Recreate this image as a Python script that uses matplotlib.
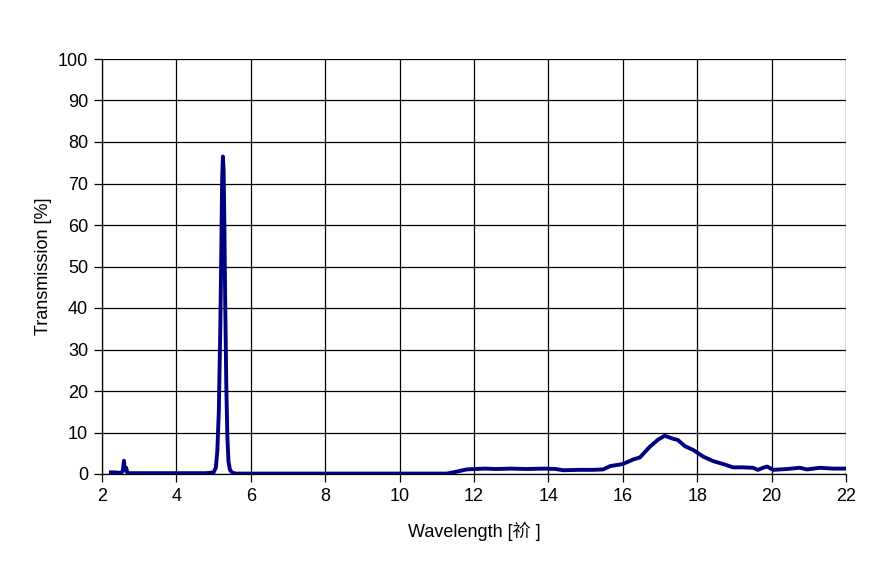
import matplotlib
matplotlib.use("Agg")
import matplotlib.pyplot as plt

wavelength = [2.24, 2.35, 2.45, 2.52, 2.56, 2.59, 2.61, 2.63, 2.65, 2.68, 2.75, 3.0, 3.5, 4.0, 4.5, 4.8,
              5.0, 5.06, 5.10, 5.14, 5.18, 5.21, 5.23, 5.25, 5.27, 5.29, 5.31, 5.34, 5.37, 5.40, 5.44,
              5.5, 5.6, 6.0, 7.0, 8.0, 9.0, 10.0, 11.0, 11.27, 11.5, 11.8, 12.0, 12.3, 12.6, 13.0,
              13.4, 13.9, 14.2, 14.4, 14.8, 15.2, 15.47, 15.66, 16.0, 16.28, 16.46, 16.73, 16.95,
              17.13, 17.35, 17.48, 17.67, 17.89, 18.16, 18.43, 18.7, 18.96, 19.23, 19.5, 19.63,
              19.8, 19.88, 20.04, 20.41, 20.76, 20.95, 21.3, 21.65, 22.0]
transmission = [0.4, 0.4, 0.3, 0.3, 0.8, 3.2, 1.2, 0.8, 1.5, 0.4, 0.2, 0.2, 0.2, 0.2, 0.2, 0.2,
                0.4, 1.5, 5.5, 15.0, 35.0, 56.0, 71.0, 76.5, 73.0, 60.0, 43.0, 22.0, 9.0, 3.0, 1.0,
                0.3, 0.1, 0.1, 0.1, 0.1, 0.1, 0.1, 0.1, 0.1, 0.5, 1.1, 1.2, 1.3, 1.2, 1.3,
                1.2, 1.3, 1.2, 0.9, 1.0, 1.0, 1.1, 1.9, 2.4, 3.5, 4.0, 6.6, 8.3,
                9.2, 8.5, 8.2, 6.7, 5.8, 4.2, 3.1, 2.4, 1.6, 1.6, 1.5, 1.0,
                1.6, 1.8, 1.0, 1.2, 1.5, 1.1, 1.5, 1.3, 1.3]

x_ticks = list(range(2, 23, 2))
y_ticks = list(range(0, 101, 10))

fig = plt.figure(figsize=(8.75, 5.78), dpi=100)
ax = fig.add_axes([102/875, 1 - 474/578, (846 - 102)/875, (474 - 59)/578])

ax.plot(wavelength, transmission, color="#000080", linewidth=2.8, solid_joinstyle="round", zorder=3)

ax.set_xlim(2, 22)
ax.set_ylim(0, 100)
ax.set_xticks(x_ticks)
ax.set_yticks(y_ticks)
ax.grid(True, color="black", linewidth=0.9)
for s in ["top", "right"]:
    ax.spines[s].set_visible(False)
for s in ["left", "bottom"]:
    ax.spines[s].set_linewidth(0.9)
ax.tick_params(direction="out", length=6, width=0.9, labelsize=13, pad=4)
for lab in ax.get_xticklabels() + ax.get_yticklabels():
    lab.set_family(["Liberation Sans", "DejaVu Sans"])

ax.set_xlabel("Wavelength [祄 ]", fontsize=13, family=["Liberation Sans", "Noto Sans CJK SC"], labelpad=12)
ax.set_ylabel("Transmission [%]", fontsize=13, family=["Liberation Sans", "DejaVu Sans"], labelpad=4)

fig.savefig("out.png", dpi=100)
